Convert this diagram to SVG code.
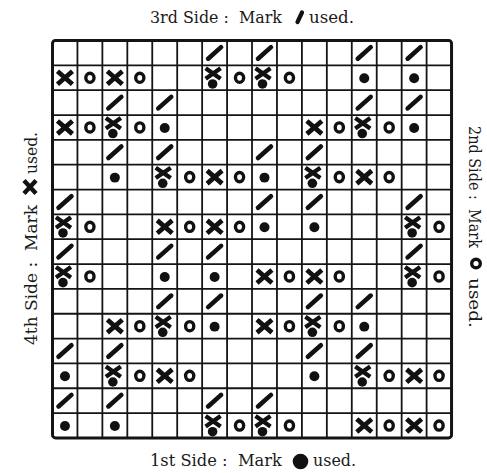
<svg xmlns="http://www.w3.org/2000/svg" xmlns:xlink="http://www.w3.org/1999/xlink" width="487" height="473" viewBox="0 0 487 473">
<style>
.lbl{font-family:"DejaVu Serif","Liberation Serif",serif;font-size:16.5px;fill:#1a1a1a}
.grid{fill:none;stroke:#141414;stroke-width:1.8}
.border{fill:none;stroke:#141414;stroke-width:3}
</style>
<defs>
<g id="S"><line x1="-6.5" y1="5.8" x2="6.5" y2="-5.8" stroke="#111" stroke-width="4.6" stroke-linecap="round"/></g>
<g id="X"><path d="M-7.5,-6.5 L7.5,6.5 M-7.5,6.5 L7.5,-6.5" stroke="#111" stroke-width="4.8" fill="none"/></g>
<g id="O"><ellipse cx="0" cy="0" rx="4.1" ry="4.6" stroke="#111" stroke-width="3.4" fill="none"/></g>
<g id="D"><circle cx="0" cy="0.5" r="5" fill="#111"/></g>
<g id="XD"><path d="M-9,-9.5 L6,1 M-9,1 L6,-9.5" stroke="#111" stroke-width="4.3" fill="none"/><circle cx="-2" cy="6.2" r="4.8" fill="#111"/></g>
</defs>

<g id="board" transform="translate(52.5 40.5) scale(0.9976 0.9936)">
<g id="grid-lines">
<path class="grid" d="M25,0V400M50,0V400M75,0V400M100,0V400M125,0V400M150,0V400M175,0V400M200,0V400M225,0V400M250,0V400M275,0V400M300,0V400M325,0V400M350,0V400M375,0V400M0,25H400M0,50H400M0,75H400M0,100H400M0,125H400M0,150H400M0,175H400M0,200H400M0,225H400M0,250H400M0,275H400M0,300H400M0,325H400M0,350H400M0,375H400"/>
<rect class="border" x="0" y="0" width="400" height="400" rx="3"/>
</g>
<g id="marks">
<!-- row 0 -->
<use href="#S" x="162.5" y="12.5"/><use href="#S" x="212.5" y="12.5"/><use href="#S" x="312.5" y="12.5"/><use href="#S" x="362.5" y="12.5"/>
<!-- row 1 -->
<use href="#X" x="12.5" y="37.5"/><use href="#O" x="37.5" y="37.5"/><use href="#X" x="62.5" y="37.5"/><use href="#O" x="87.5" y="37.5"/>
<use href="#XD" x="162.5" y="37.5"/><use href="#O" x="187.5" y="37.5"/><use href="#XD" x="212.5" y="37.5"/><use href="#O" x="237.5" y="37.5"/>
<use href="#D" x="312.5" y="37.5"/><use href="#D" x="362.5" y="37.5"/>
<!-- row 2 -->
<use href="#S" x="62.5" y="62.5"/><use href="#S" x="112.5" y="62.5"/><use href="#S" x="312.5" y="62.5"/><use href="#S" x="362.5" y="62.5"/>
<!-- row 3 -->
<use href="#X" x="12.5" y="87.5"/><use href="#O" x="37.5" y="87.5"/><use href="#XD" x="62.5" y="87.5"/><use href="#O" x="87.5" y="87.5"/><use href="#D" x="112.5" y="87.5"/>
<use href="#X" x="262.5" y="87.5"/><use href="#O" x="287.5" y="87.5"/><use href="#XD" x="312.5" y="87.5"/><use href="#O" x="337.5" y="87.5"/><use href="#D" x="362.5" y="87.5"/>
<!-- row 4 -->
<use href="#S" x="62.5" y="112.5"/><use href="#S" x="112.5" y="112.5"/><use href="#S" x="212.5" y="112.5"/><use href="#S" x="262.5" y="112.5"/>
<!-- row 5 -->
<use href="#D" x="62.5" y="137.5"/><use href="#XD" x="112.5" y="137.5"/><use href="#O" x="137.5" y="137.5"/><use href="#X" x="162.5" y="137.5"/><use href="#O" x="187.5" y="137.5"/>
<use href="#D" x="212.5" y="137.5"/><use href="#XD" x="262.5" y="137.5"/><use href="#O" x="287.5" y="137.5"/><use href="#X" x="312.5" y="137.5"/><use href="#O" x="337.5" y="137.5"/>
<!-- row 6 -->
<use href="#S" x="12.5" y="162.5"/><use href="#S" x="212.5" y="162.5"/><use href="#S" x="262.5" y="162.5"/><use href="#S" x="362.5" y="162.5"/>
<!-- row 7 -->
<use href="#XD" x="12.5" y="187.5"/><use href="#O" x="37.5" y="187.5"/><use href="#X" x="112.5" y="187.5"/><use href="#O" x="137.5" y="187.5"/><use href="#X" x="162.5" y="187.5"/><use href="#O" x="187.5" y="187.5"/>
<use href="#D" x="212.5" y="187.5"/><use href="#D" x="262.5" y="187.5"/><use href="#XD" x="362.5" y="187.5"/><use href="#O" x="387.5" y="187.5"/>
<!-- row 8 -->
<use href="#S" x="12.5" y="212.5"/><use href="#S" x="112.5" y="212.5"/><use href="#S" x="162.5" y="212.5"/><use href="#S" x="362.5" y="212.5"/>
<!-- row 9 -->
<use href="#XD" x="12.5" y="237.5"/><use href="#O" x="37.5" y="237.5"/><use href="#D" x="112.5" y="237.5"/><use href="#D" x="162.5" y="237.5"/>
<use href="#X" x="212.5" y="237.5"/><use href="#O" x="237.5" y="237.5"/><use href="#X" x="262.5" y="237.5"/><use href="#O" x="287.5" y="237.5"/><use href="#XD" x="362.5" y="237.5"/><use href="#O" x="387.5" y="237.5"/>
<!-- row 10 -->
<use href="#S" x="112.5" y="262.5"/><use href="#S" x="162.5" y="262.5"/><use href="#S" x="262.5" y="262.5"/><use href="#S" x="312.5" y="262.5"/>
<!-- row 11 -->
<use href="#X" x="62.5" y="287.5"/><use href="#O" x="87.5" y="287.5"/><use href="#XD" x="112.5" y="287.5"/><use href="#O" x="137.5" y="287.5"/><use href="#D" x="162.5" y="287.5"/>
<use href="#X" x="212.5" y="287.5"/><use href="#O" x="237.5" y="287.5"/><use href="#XD" x="262.5" y="287.5"/><use href="#O" x="287.5" y="287.5"/><use href="#D" x="312.5" y="287.5"/>
<!-- row 12 -->
<use href="#S" x="12.5" y="312.5"/><use href="#S" x="62.5" y="312.5"/><use href="#S" x="262.5" y="312.5"/><use href="#S" x="312.5" y="312.5"/>
<!-- row 13 -->
<use href="#D" x="12.5" y="337.5"/><use href="#XD" x="62.5" y="337.5"/><use href="#O" x="87.5" y="337.5"/><use href="#X" x="112.5" y="337.5"/><use href="#O" x="137.5" y="337.5"/>
<use href="#D" x="262.5" y="337.5"/><use href="#XD" x="312.5" y="337.5"/><use href="#O" x="337.5" y="337.5"/><use href="#X" x="362.5" y="337.5"/><use href="#O" x="387.5" y="337.5"/>
<!-- row 14 -->
<use href="#S" x="12.5" y="362.5"/><use href="#S" x="62.5" y="362.5"/><use href="#S" x="162.5" y="362.5"/><use href="#S" x="212.5" y="362.5"/>
<!-- row 15 -->
<use href="#D" x="12.5" y="387.5"/><use href="#D" x="62.5" y="387.5"/><use href="#XD" x="162.5" y="387.5"/><use href="#O" x="187.5" y="387.5"/>
<use href="#XD" x="212.5" y="387.5"/><use href="#O" x="237.5" y="387.5"/><use href="#X" x="312.5" y="387.5"/><use href="#O" x="337.5" y="387.5"/><use href="#X" x="362.5" y="387.5"/><use href="#O" x="387.5" y="387.5"/>
</g>
</g>

<g id="label-top">
<text class="lbl" x="150" y="23" textLength="132" lengthAdjust="spacingAndGlyphs">3rd Side :&#160; Mark</text>
<line x1="297.5" y1="22" x2="302" y2="12.5" stroke="#111" stroke-width="4.2" stroke-linecap="round"/>
<text class="lbl" x="309" y="23" textLength="45" lengthAdjust="spacingAndGlyphs">used.</text>
</g>
<g id="label-bottom">
<text class="lbl" x="150" y="466" textLength="132" lengthAdjust="spacingAndGlyphs">1st Side :&#160; Mark</text>
<circle cx="300.5" cy="461.5" r="7.8" fill="#111"/>
<text class="lbl" x="313" y="466" textLength="43" lengthAdjust="spacingAndGlyphs">used.</text>
</g>
<g id="label-left">
<text class="lbl" transform="translate(37 345) rotate(-90)" textLength="140" lengthAdjust="spacingAndGlyphs">4th Side :&#160; Mark</text>
<path d="M24,180.5 L36,193.5 M24,193.5 L36,180.5" stroke="#111" stroke-width="4.4" fill="none"/>
<text class="lbl" transform="translate(37 174) rotate(-90)" textLength="42" lengthAdjust="spacingAndGlyphs">used.</text>
</g>
<g id="label-right">
<text class="lbl" transform="translate(469 126) rotate(90)" textLength="122" lengthAdjust="spacingAndGlyphs">2nd Side :&#160; Mark</text>
<ellipse cx="476" cy="263.5" rx="4.3" ry="4.3" stroke="#111" stroke-width="3.4" fill="none"/>
<text class="lbl" transform="translate(469 278) rotate(90)" textLength="50" lengthAdjust="spacingAndGlyphs">used.</text>
</g>
</svg>
